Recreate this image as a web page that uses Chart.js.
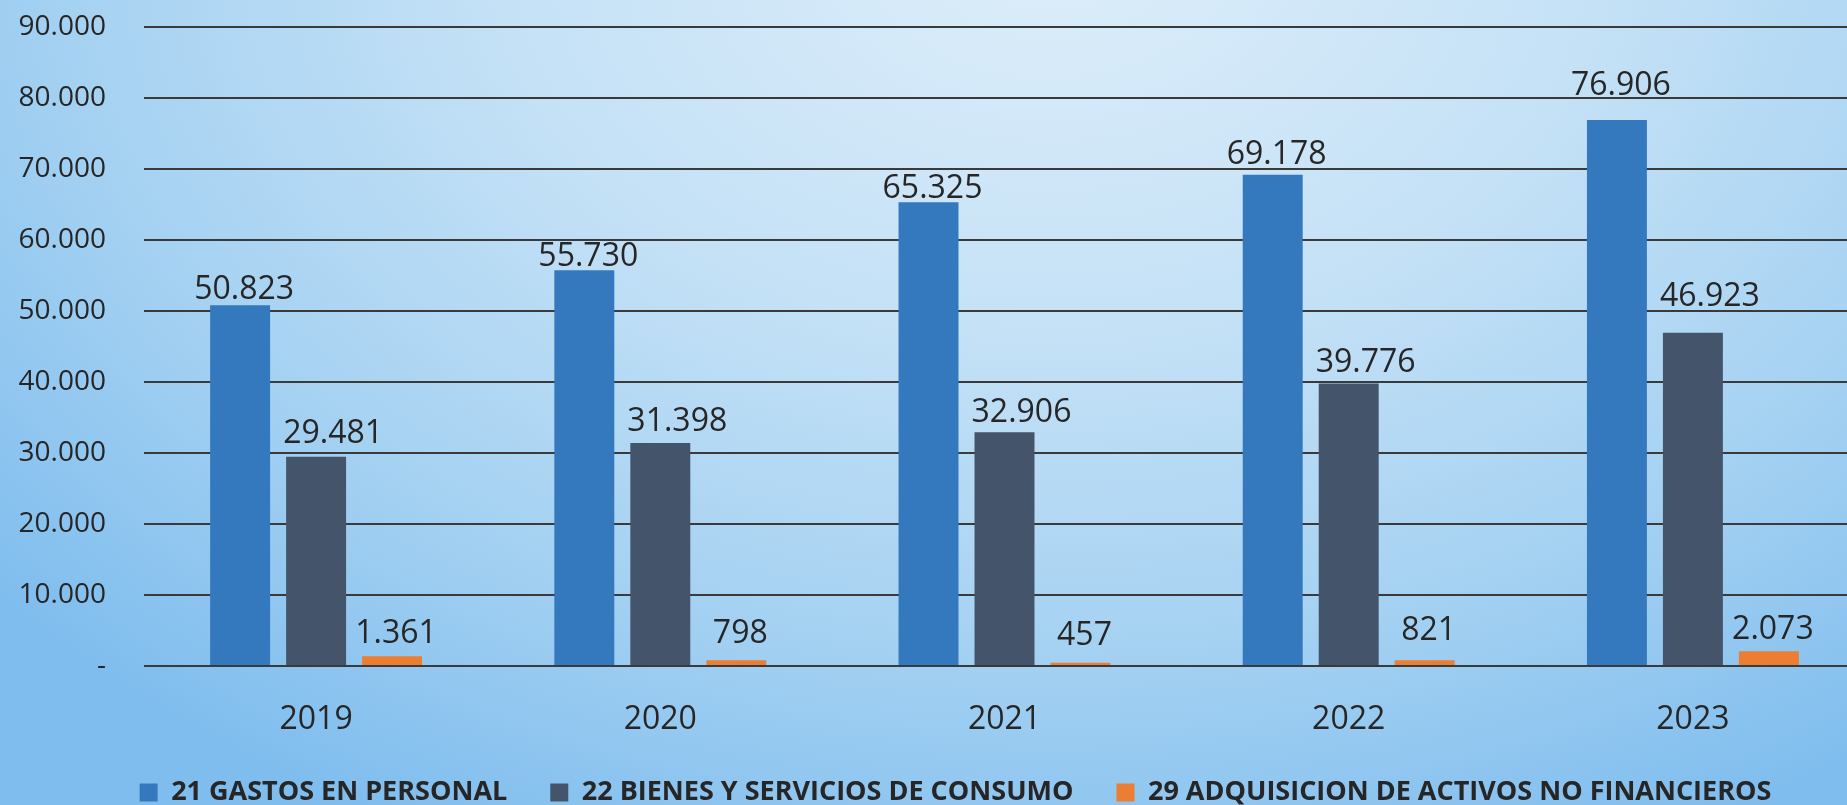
<!DOCTYPE html>
<html>
<head>
<meta charset="utf-8">
<script src="https://cdn.jsdelivr.net/npm/chart.js@4/dist/chart.umd.min.js"></script>
<style>
  html, body { margin: 0; padding: 0; overflow: hidden; width: 1847px; height: 805px; }
  body {
    background: radial-gradient(ellipse 1400px 1000px at 1050px -60px, #deeefa 0%, #c4e1f6 40%, #a6d2f2 70%, #7fbdee 100%);
  }
  #wrap { position: absolute; left: 0; top: 0; width: 1900px; height: 816px; }
</style>
</head>
<body>
<div id="wrap"><canvas id="c"></canvas></div>
<script>
const categories = ['2019', '2020', '2021', '2022', '2023'];
const seriesNames = ['21 GASTOS EN PERSONAL', '22 BIENES Y SERVICIOS DE CONSUMO', '29 ADQUISICION DE ACTIVOS NO FINANCIEROS'];
const gastosPersonal = [50823, 55730, 65325, 69178, 76906];
const bienesServicios = [29481, 31398, 32906, 39776, 46923];
const adquisicionActivos = [1361, 798, 457, 821, 2073];
const yTicks = [0, 10000, 20000, 30000, 40000, 50000, 60000, 70000, 80000, 90000];

const colors = ['#3479bd', '#44546a', '#ed7d31'];
// label placement (style only): horizontal shift and lift above bar top, per series
const labelDx = [4, 17, 4];
const labelDy = [6, 12, 16];
// extra per-label lift, as placed in the original
const labelLift = [
  [0, -2, -2, 5, 19],
  [2, 0, -2, 0, 15],
  [-3, 1, 2, 4, -4]
];

function fmt(v) {
  if (v === 0) return '-';
  return String(v).replace(/\B(?=(\d{3})+(?!\d))/g, '.');
}

const valueLabels = {
  id: 'valueLabels',
  afterDatasetsDraw(chart) {
    const ctx = chart.ctx;
    ctx.save();
    ctx.font = "32px 'Open Sans'";
    ctx.fillStyle = '#262626';
    ctx.textAlign = 'center';
    ctx.textBaseline = 'alphabetic';
    chart.data.datasets.forEach((ds, i) => {
      const meta = chart.getDatasetMeta(i);
      meta.data.forEach((bar, j) => {
        ctx.fillText(fmt(ds.data[j]), bar.x + labelDx[i], bar.y - labelDy[i] - labelLift[i][j]);
      });
    });
    ctx.restore();
  }
};

const LEGEND_SHIFT = 23;
const legendShift = {
  id: 'legendShift',
  afterLayout(chart) {
    if (chart.legend) {
      chart.legend.left += LEGEND_SHIFT;
      chart.legend.right += LEGEND_SHIFT;
    }
  }
};

const PAD_RIGHT = 35, PAD_TOP = 27, PAD_BOTTOM = 0;
const AREA_LEFT = 144, AREA_BOTTOM = 666;

new Chart(document.getElementById('c'), {
  type: 'bar',
  data: {
    labels: categories,
    datasets: [
      { label: seriesNames[0], data: gastosPersonal, backgroundColor: colors[0], borderWidth: 0 },
      { label: seriesNames[1], data: bienesServicios, backgroundColor: colors[1], borderWidth: 0 },
      { label: seriesNames[2], data: adquisicionActivos, backgroundColor: colors[2], borderWidth: 0 }
    ]
  },
  options: {
    responsive: true,
    maintainAspectRatio: false,
    animation: false,
    devicePixelRatio: 1,
    layout: { padding: { left: 0, right: PAD_RIGHT, top: PAD_TOP, bottom: PAD_BOTTOM } },
    datasets: { bar: { categoryPercentage: 0.6623, barPercentage: 0.789 } },
    plugins: {
      tooltip: { enabled: false },
      legend: {
        position: 'bottom',
        labels: {
          font: { family: "'Open Sans'", size: 27, weight: 'bold' },
          color: '#262626',
          boxWidth: 18,
          boxHeight: 18,
          padding: 43
        }
      }
    },
    scales: {
      x: {
        grid: { display: false, drawTicks: false },
        border: { display: false },
        ticks: { font: { family: "'Open Sans'", size: 32 }, color: '#262626', padding: 35 },
        afterFit(scale) {
          const lg = scale.chart.legend;
          const lh = lg && lg.height ? lg.height : 80;
          scale.height = scale.chart.height - PAD_BOTTOM - lh - AREA_BOTTOM;
        }
      },
      y: {
        min: 0,
        max: 90000,
        afterBuildTicks(scale) { scale.ticks = yTicks.map(v => ({ value: v })); },
        grid: { color: '#3a3a3a', lineWidth: 2, drawTicks: true, tickLength: 38, tickColor: 'rgba(0,0,0,0)' },
        border: { display: false },
        ticks: {
          font: { family: "'Open Sans'", size: 28 },
          color: '#262626',
          padding: 0,
          callback: (v) => fmt(v)
        },
        afterFit(scale) { scale.width = AREA_LEFT; }
      }
    }
  },
  plugins: [valueLabels, legendShift]
});
</script>
</body>
</html>
